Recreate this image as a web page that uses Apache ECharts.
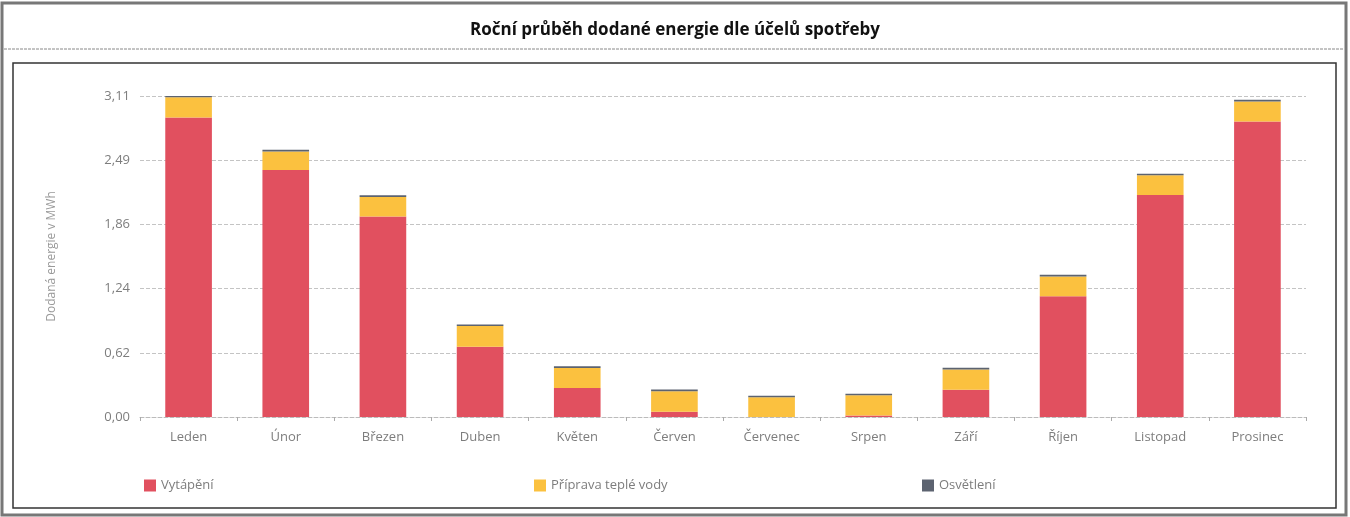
<!DOCTYPE html>
<html>
<head>
    <meta http-equiv="content-type" content="text/html;charset=utf-8">
    <script src="https://cdn.jsdelivr.net/npm/echarts@6/dist/echarts.min.js"></script>
    <style>
        html, body {margin:0; padding:0; background:#fff;}
        #chart {width:1350px; height:517px;}
    </style>
</head>
<body>
<div id="chart"></div>
<script type="text/javascript">
    // mesice a hodnoty v MWh
    var mesice = ['Leden', 'Únor', 'Březen', 'Duben', 'Květen', 'Červen', 'Červenec', 'Srpen', 'Září', 'Říjen', 'Listopad', 'Prosinec'];
    var vytapeni = [2.90, 2.39, 1.94, 0.68, 0.28, 0.05, 0.00, 0.015, 0.265, 1.17, 2.15, 2.86];
    var teplaVoda = [0.195, 0.18, 0.19, 0.20, 0.195, 0.20, 0.19, 0.195, 0.195, 0.19, 0.19, 0.195];
    var osvetleni = [0.016, 0.016, 0.016, 0.016, 0.016, 0.016, 0.016, 0.016, 0.016, 0.016, 0.016, 0.016];
    // osa y: 5 stejnych useku do maxima
    var osaMax = 3.1075;
    var osaKrok = 0.6215;

    var font = '"Open Sans", sans-serif';
    var seda = '#7d7d7d';

    var myChart = echarts.init(document.getElementById('chart'));
    var option = {
        backgroundColor: '#fff',
        animation: false,
        title: {
            text: 'Roční průběh dodané energie dle účelů spotřeby',
            left: 'center',
            top: 17,
            textStyle: {fontFamily: font, fontSize: 17, fontWeight: 'bold', color: '#111'}
        },
        graphic: [
            {type: 'rect', shape: {x: 2, y: 3, width: 1344, height: 512}, style: {fill: 'none', stroke: '#777', lineWidth: 3}},
            {type: 'line', shape: {x1: 4, y1: 49, x2: 1344, y2: 49}, style: {stroke: '#888', lineWidth: 1, lineDash: [3, 1]}},
            {type: 'rect', shape: {x: 13, y: 63, width: 1323, height: 445}, style: {fill: 'none', stroke: '#333', lineWidth: 1.5}}
        ],
        legend: [
            {data: ['Vytápění'], left: 139, top: 474},
            {data: ['Příprava teplé vody'], left: 529, top: 474},
            {data: ['Osvětlení'], left: 917, top: 474}
        ].map(function (l) {
            l.itemWidth = 12;
            l.itemHeight = 12;
            l.icon = 'rect';
            l.textStyle = {fontFamily: font, fontSize: 13, color: seda};
            return l;
        }),
        grid: {left: 140, right: 44, top: 96, bottom: 100},
        xAxis: {
            type: 'category',
            data: mesice,
            axisLine: {lineStyle: {color: '#bbb', type: 'dashed'}},
            axisTick: {show: true, length: 4, lineStyle: {color: '#aaa'}},
            axisLabel: {fontFamily: font, fontSize: 13, color: seda, margin: 14}
        },
        yAxis: {
            type: 'value',
            min: 0,
            max: osaMax,
            interval: osaKrok,
            name: 'Dodaná energie v MWh',
            nameLocation: 'middle',
            nameGap: 82,
            nameTextStyle: {fontFamily: font, fontSize: 12, color: '#999'},
            axisLine: {show: false},
            axisTick: {show: false},
            axisLabel: {
                fontFamily: font, fontSize: 13, color: seda, margin: 10,
                formatter: function (v) { return v.toFixed(2).replace('.', ','); }
            },
            splitLine: {lineStyle: {color: '#c4c4c4', type: 'dashed'}}
        },
        series: [
            {name: 'Vytápění', type: 'bar', stack: 'e', data: vytapeni, barWidth: '48%', itemStyle: {color: '#e1505f'}},
            {name: 'Příprava teplé vody', type: 'bar', stack: 'e', data: teplaVoda, itemStyle: {color: '#fbc13f'}},
            {name: 'Osvětlení', type: 'bar', stack: 'e', data: osvetleni, itemStyle: {color: '#5c6370'}}
        ]
    };
    myChart.setOption(option);
</script>
</body>
</html>
